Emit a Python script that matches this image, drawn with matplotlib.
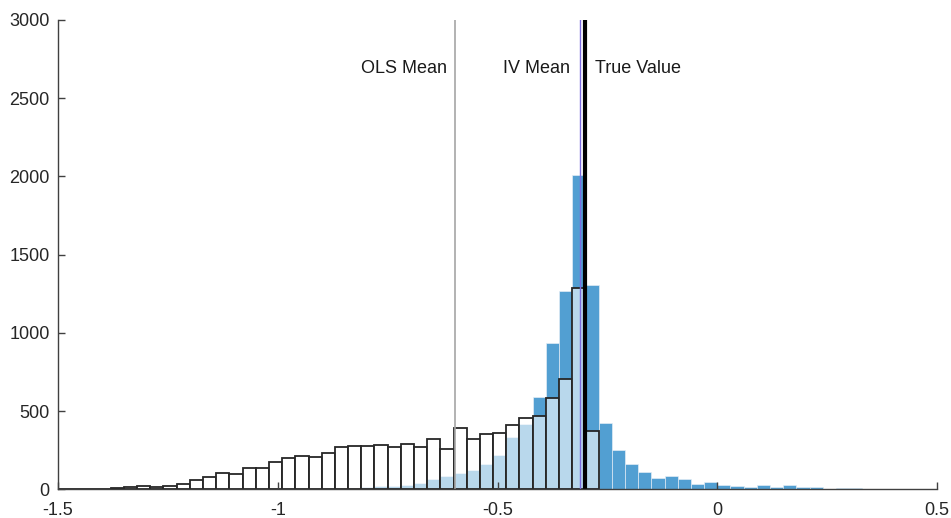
import numpy as np
import matplotlib.pyplot as plt

plt.rcParams['font.family'] = ['Liberation Sans', 'DejaVu Sans']

# histogram bins: width 0.03 starting at -1.5
bin_start = -1.5
bin_width = 0.03

# OLS estimates, counts per bin (-1.50 ... -0.30)
ols_counts = [1, 2, 3, 5, 7, 12, 23, 15, 23, 34,
              61, 80, 104, 100, 138, 137, 176, 199, 216, 206,
              234, 268, 278, 276, 285, 271, 290, 272, 324, 256,
              389, 324, 356, 362, 412, 453, 470, 582, 703, 1284,
              375]

# IV estimates, counts per bin (-1.50 ... 0.48)
iv_counts = [0, 0, 0, 0, 0, 0, 0, 0, 0, 0,
             0, 0, 1, 1, 1, 2, 2, 2, 3, 3,
             4, 6, 9, 13, 18, 22, 28, 40, 66, 85,
             106, 125, 162, 218, 336, 415, 587, 934, 1267, 2008,
             1309, 424, 250, 161, 113, 75, 82, 64, 36, 46,
             28, 19, 13, 28, 13, 25, 15, 15, 4, 7,
             6, 4, 2, 5, 3, 2, 1]

ols_mean = -0.597
iv_mean = -0.312
true_value = -0.3

iv_left = bin_start + bin_width * np.arange(len(iv_counts))
ols_left = bin_start + bin_width * np.arange(len(ols_counts))

fig = plt.figure(figsize=(9.51, 5.18), dpi=100)
ax = fig.add_axes([0.061, 0.0554, 0.9243, 0.906])

ax.bar(iv_left, iv_counts, width=bin_width, align='edge',
       color='#0072BD', alpha=0.68, edgecolor='#e6eef6', linewidth=0.7)
ax.bar(ols_left, ols_counts, width=bin_width, align='edge',
       facecolor=(1, 1, 1, 0.6), edgecolor='#262626', linewidth=1.3)

ax.axvline(ols_mean, color='#a6a6a6', linewidth=1.2)
ax.axvline(iv_mean, color='#7b6be0', linewidth=1.0)
ax.axvline(true_value, color='black', linewidth=3)

label_y = 2690
txt = dict(fontsize=13, color='#1a1a1a', va='center')
ax.annotate('OLS Mean', (ols_mean, label_y), xytext=(-6, 0),
            textcoords='offset points', ha='right', **txt)
ax.annotate('IV Mean', (iv_mean, label_y), xytext=(-7, 0),
            textcoords='offset points', ha='right', **txt)
ax.annotate('True Value', (true_value, label_y), xytext=(7, 0),
            textcoords='offset points', ha='left', **txt)

ax.set_xlim(-1.5, 0.5)
ax.set_ylim(0, 3000)
ax.set_xticks([-1.5, -1, -0.5, 0, 0.5])
ax.set_xticklabels(['-1.5', '-1', '-0.5', '0', '0.5'])
ax.set_yticks(np.arange(0, 3001, 500))

for side in ['top', 'right']:
    ax.spines[side].set_visible(False)
for side in ['left', 'bottom']:
    ax.spines[side].set_color('#404040')
    ax.spines[side].set_linewidth(1.0)

ax.tick_params(axis='both', direction='in', length=5, width=1,
               color='#404040', labelsize=13, labelcolor='#262626')
ax.tick_params(axis='x', pad=9)
ax.tick_params(axis='y', pad=6)

fig.savefig('out.png', dpi=100)
